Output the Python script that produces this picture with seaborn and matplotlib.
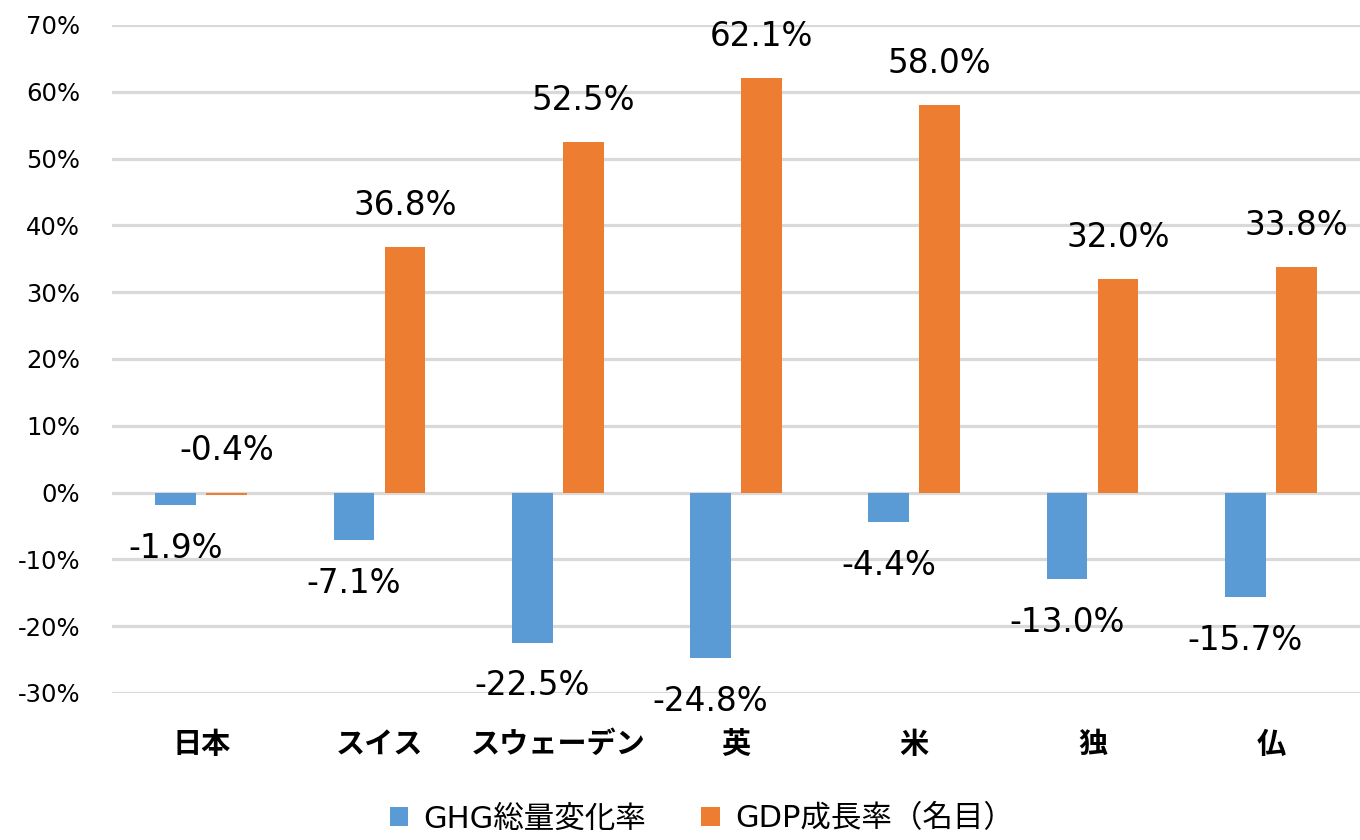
import matplotlib
matplotlib.use("Agg")
import matplotlib.pyplot as plt
import seaborn as sns
import pandas as pd

categories = ["日本", "スイス", "スウェーデン", "英", "米", "独", "仏"]
series_names = ["GHG総量変化率", "GDP成長率（名目）"]
ghg_values = [-1.9, -7.1, -22.5, -24.8, -4.4, -13.0, -15.7]
gdp_values = [-0.4, 36.8, 52.5, 62.1, 58.0, 32.0, 33.8]
y_ticks = [-30, -20, -10, 0, 10, 20, 30, 40, 50, 60, 70]
colors = ["#5B9BD5", "#ED7D31"]

sns.set_theme(style="white")
plt.rcParams['font.family'] = ['DejaVu Sans', 'Noto Sans CJK JP']
plt.rcParams['text.color'] = 'black'
plt.rcParams['xtick.color'] = 'black'
plt.rcParams['ytick.color'] = 'black'

df = pd.DataFrame({
    "category": categories * 2,
    "series": [series_names[0]] * len(categories) + [series_names[1]] * len(categories),
    "value": ghg_values + gdp_values,
})

fig = plt.figure(figsize=(13.6, 8.4), dpi=100)
ax = fig.add_axes([112 / 1360, 1 - 693 / 840, 1 - 112 / 1360, (693 - 25) / 840])

sns.barplot(data=df, x="category", y="value", hue="series", order=categories,
            hue_order=series_names, palette=colors, width=0.572, gap=0.2,
            saturation=1, ax=ax, legend=True, linewidth=0, edgecolor="none")

ax.set_ylim(-30, 70)
ax.set_xlim(-0.5, len(categories) - 0.5)
ax.set_yticks(y_ticks)
ax.set_yticklabels([f"{t}%" for t in y_ticks])
ax.yaxis.grid(True, color="#d9d9d9", linewidth=2.3)
ax.set_axisbelow(True)
for s in ax.spines.values():
    s.set_visible(False)
ax.tick_params(axis="y", length=0, pad=23, labelsize=17.5, colors="black")
ax.tick_params(axis="x", length=0, pad=26, colors="black")
for lbl in ax.get_xticklabels():
    lbl.set_fontsize(21)
    lbl.set_fontweight("bold")
    lbl.set_color("black")
    lbl.set_family(['Noto Sans CJK JP', 'DejaVu Sans'])
ax.set_xlabel("")
ax.set_ylabel("")

# data labels
for i, cat in enumerate(categories):
    g = ghg_values[i]
    ax.annotate(f"{g:.1f}%", xy=(i - 0.143, min(g, 0)), xytext=(0, -31),
                textcoords="offset points", ha="center", va="center",
                fontsize=23.5, color="black")
    d = gdp_values[i]
    ax.annotate(f"{d:.1f}%", xy=(i + 0.143, max(d, 0)), xytext=(0, 30),
                textcoords="offset points", ha="center", va="center",
                fontsize=23.5, color="black")

handles, labels = ax.get_legend_handles_labels()
ax.legend_.remove()
leg = fig.legend(handles, labels, loc="center", bbox_to_anchor=(0.516, 1 - 819 / 840),
                 ncol=2, frameon=False, handlelength=0.6, handleheight=0.6,
                 handletextpad=0.5, columnspacing=1.8, borderpad=0.2,
                 prop={'family': ['DejaVu Sans', 'Noto Sans CJK JP'], 'size': 22})
for t in leg.get_texts():
    t.set_color("black")

fig.savefig("out.png", dpi=100)
